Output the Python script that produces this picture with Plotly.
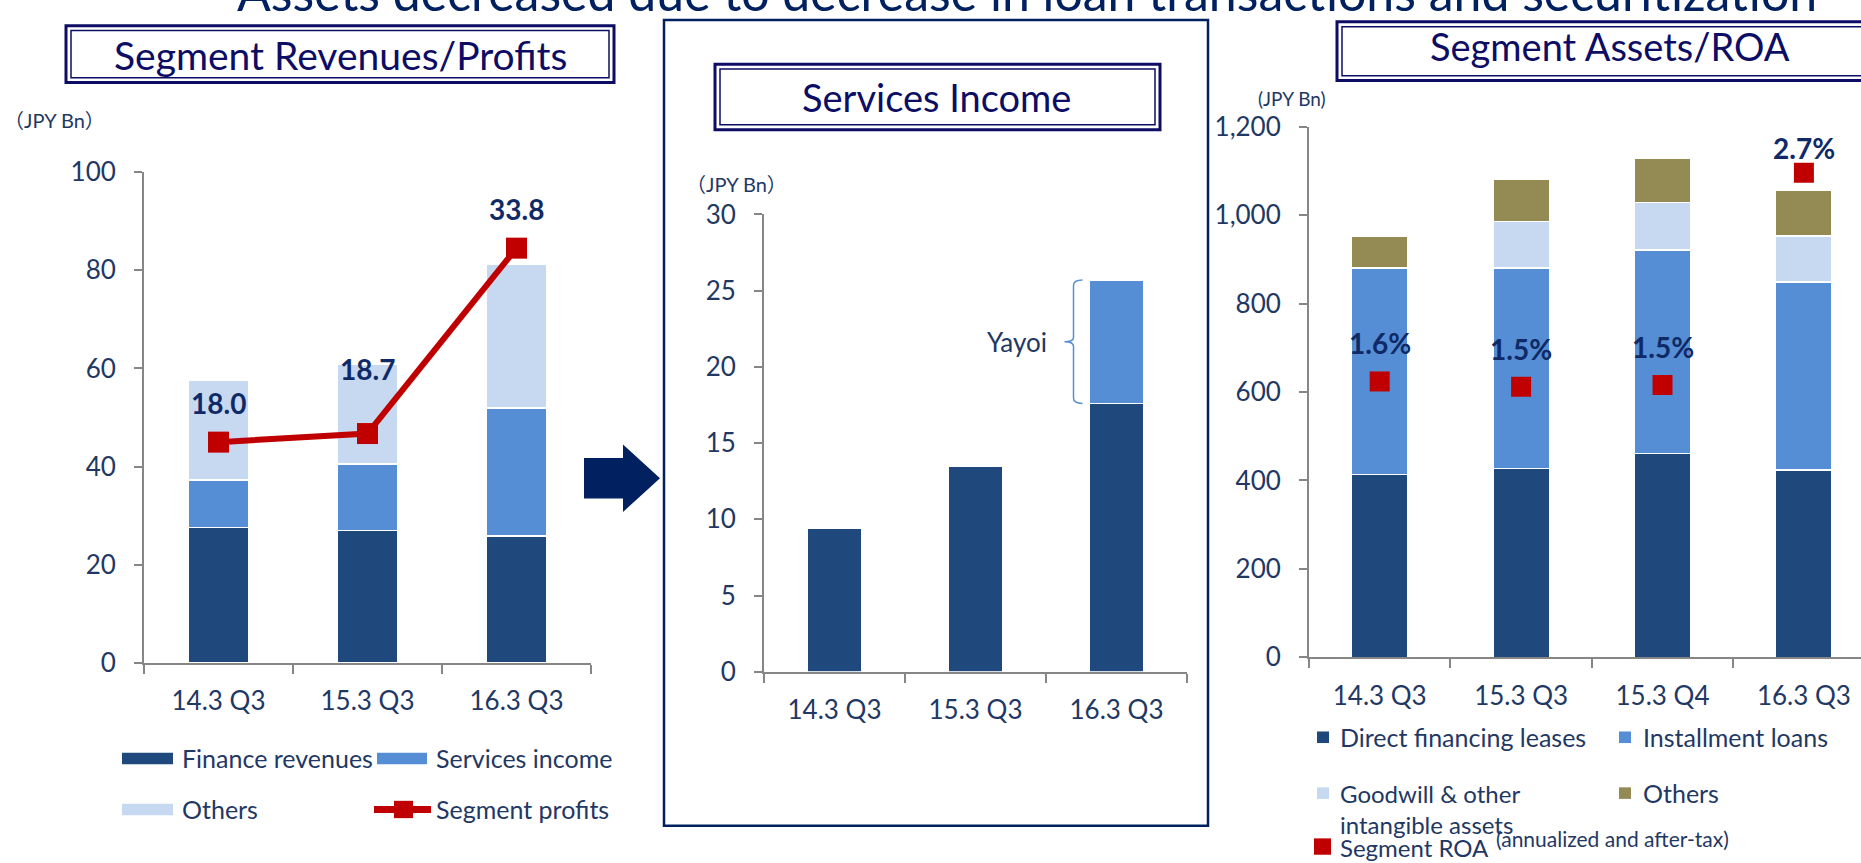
import plotly.graph_objects as go

W, H = 1861, 863

# ---------------- data ----------------
cats_left = ["14.3 Q3", "15.3 Q3", "16.3 Q3"]
finance_rev = [27.6, 27.0, 25.9]
services_inc = [9.7, 13.5, 26.0]
others_rev = [20.3, 20.4, 29.4]
segment_profits = [18.0, 18.7, 33.8]

cats_mid = ["14.3 Q3", "15.3 Q3", "16.3 Q3"]
services_base = [9.4, 13.5, 17.6]
services_yayoi = [0, 0, 8.1]

cats_right = ["14.3 Q3", "15.3 Q3", "15.3 Q4", "16.3 Q3"]
dfl = [413, 427, 461, 424]
inst_loans = [468, 454, 460, 425]
goodwill = [0, 105, 108, 104]
others_assets = [71, 95, 99, 103]
roa = [1.56, 1.53, 1.54, 2.74]

left_ticks = [0, 20, 40, 60, 80, 100]
mid_ticks = [0, 5, 10, 15, 20, 25, 30]
right_ticks = [0, 200, 400, 600, 800, 1000, 1200]
right_ticktext = ["0", "200", "400", "600", "800", "1,000", "1,200"]

# ---------------- styles ----------------
FONT = "Lato"
C_DARK = "#1F497D"
C_MID = "#558ED5"
C_LIGHT = "#C6D9F1"
C_OLIVE = "#948A54"
C_RED = "#C00000"
C_TXT = "#1F3864"
C_BOLD = "#0F2A66"
C_TITLE = "#0D0D65"
C_AX = "#868686"
C_BOX = "#002060"


def px(x):
    return x / W


def py(y):
    return 1 - y / H


fig = go.Figure()

bar_line = dict(color="white", width=1.5)

# Left chart
for name, vals, col in [("Finance revenues", finance_rev, C_DARK),
                        ("Services income", services_inc, C_MID),
                        ("Others", others_rev, C_LIGHT)]:
    fig.add_trace(go.Bar(x=cats_left, y=vals, name=name, marker=dict(color=col, line=bar_line),
                         width=0.4, xaxis="x", yaxis="y", showlegend=False, hoverinfo="skip"))
fig.add_trace(go.Scatter(x=cats_left, y=segment_profits, name="Segment profits", mode="lines+markers",
                         line=dict(color=C_RED, width=6),
                         marker=dict(symbol="square", size=21, color=C_RED),
                         xaxis="x", yaxis="y2", showlegend=False, hoverinfo="skip"))

# Middle chart
fig.add_trace(go.Bar(x=cats_mid, y=services_base, marker=dict(color=C_DARK, line=bar_line),
                     width=0.38, xaxis="x2", yaxis="y3", showlegend=False, hoverinfo="skip"))
fig.add_trace(go.Bar(x=cats_mid, y=services_yayoi, marker=dict(color=C_MID, line=bar_line),
                     width=0.38, xaxis="x2", yaxis="y3", showlegend=False, hoverinfo="skip"))

# Right chart
for name, vals, col in [("Direct financing leases", dfl, C_DARK),
                        ("Installment loans", inst_loans, C_MID),
                        ("Goodwill & other intangible assets", goodwill, C_LIGHT),
                        ("Others", others_assets, C_OLIVE)]:
    fig.add_trace(go.Bar(x=cats_right, y=vals, name=name, marker=dict(color=col, line=bar_line),
                         width=0.4, xaxis="x3", yaxis="y4", showlegend=False, hoverinfo="skip"))
fig.add_trace(go.Scatter(x=cats_right, y=roa, mode="markers",
                         marker=dict(symbol="square", size=20, color=C_RED),
                         xaxis="x3", yaxis="y5", showlegend=False, hoverinfo="skip"))

tickfont = dict(family=FONT, size=26, color=C_TXT)


def xax(domain, anchor, rng):
    return dict(domain=domain, anchor=anchor, type="category", range=rng,
                showline=True, linecolor=C_AX, linewidth=2, ticks="outside",
                tickson="boundaries", ticklen=9, tickwidth=2, tickcolor=C_AX,
                showgrid=False, zeroline=False, tickfont=tickfont,
                ticklabelstandoff=14, fixedrange=True)


def yax(domain, anchor, rng, tickvals, ticktext=None):
    d = dict(domain=domain, anchor=anchor, range=rng, tickvals=tickvals,
             showline=True, linecolor=C_AX, linewidth=2, ticks="outside",
             ticklen=8, tickwidth=2, tickcolor=C_AX, showgrid=False,
             zeroline=False, tickfont=tickfont, ticklabelstandoff=13,
             fixedrange=True)
    if ticktext:
        d["ticktext"] = ticktext
    return d


right_cat = 141.4
right_x0 = 1309
right_end = (W - right_x0) / right_cat - 0.5

fig.update_layout(
    width=W, height=H,
    margin=dict(l=0, r=0, t=0, b=0),
    paper_bgcolor="white", plot_bgcolor="rgba(0,0,0,0)",
    barmode="stack",
    showlegend=False,
    xaxis=xax([px(144), px(591)], "y", [-0.5, 2.5]),
    yaxis=yax([py(671), py(161)], "x", [0, 100], left_ticks),
    yaxis2=dict(overlaying="y", anchor="x", range=[0, 40], visible=False, fixedrange=True),
    xaxis2=xax([px(764), px(1187)], "y3", [-0.5, 2.5]),
    yaxis3=yax([py(680), py(205)], "x2", [0, 30], mid_ticks),
    xaxis3=xax([px(right_x0), 1.0], "y4", [-0.5, right_end]),
    yaxis4=yax([py(665), py(114)], "x3", [0, 1200], right_ticks, right_ticktext),
    yaxis5=dict(overlaying="y4", anchor="x3", range=[0, 3], visible=False, fixedrange=True),
)

ann = []
shapes = []


def text(x, y, s, size=25, color=C_TXT, xanchor="left", yanchor="middle", bold=False, family=FONT):
    ann.append(dict(x=px(x), y=py(y), xref="paper", yref="paper", text=("<b>%s</b>" % s) if bold else s,
                    showarrow=False, xanchor=xanchor, yanchor=yanchor, align="left",
                    font=dict(family=family, size=size, color=color)))


def rect(x0, y0, x1, y1, fill=None, line=None, lw=0):
    shapes.append(dict(type="rect", xref="paper", yref="paper", x0=px(x0), x1=px(x1), y0=py(y1), y1=py(y0),
                       fillcolor=fill if fill else "rgba(0,0,0,0)",
                       line=dict(color=line if line else "rgba(0,0,0,0)", width=lw), layer="above"))


def double_box(x0, y0, x1, y1):
    rect(x0, y0, x1, y1, line=C_TITLE, lw=3)
    rect(x0 + 5, y0 + 5, x1 - 5, y1 - 5, line=C_TITLE, lw=1.5)


# Top banner (cut off at top of the page)
text(1027, -26, "Assets decreased due to decrease in loan transactions and securitization",
     size=50, color=C_BOX, xanchor="center")

# Middle frame
rect(664, 3, 1208, 840, line=C_BOX, lw=2.5)

# Title boxes
double_box(66, 9, 614, 68)
text(340, 39, "Segment Revenues/Profits", size=39, color=C_TITLE, xanchor="center")
double_box(715, 49, 1160, 117)
text(937, 83, "Services Income", size=38, color=C_TITLE, xanchor="center")
double_box(1337, 5, 1885, 66)
text(1610, 30, "Segment Assets/ROA", size=38, color=C_TITLE, xanchor="center")

# Unit labels
text(2, 107, "（JPY Bn）", size=20, family="Lato, Noto Sans CJK JP")
text(684, 173, "（JPY Bn）", size=20, family="Lato, Noto Sans CJK JP")
text(1256, 85, "(JPY Bn)", size=19)

# Arrow
pts = [(584, 458), (623, 458), (623, 444), (660, 479), (623, 514), (623, 500), (584, 500)]
path = "M " + " L ".join("%f,%f" % (px(a), py(b)) for a, b in pts) + " Z"
shapes.append(dict(type="path", xref="paper", yref="paper", path=path, fillcolor=C_BOX,
                   line=dict(width=0)))

# Data labels
for i, v in enumerate(segment_profits):
    ann.append(dict(x=cats_left[i], y=v, xref="x", yref="y2", text="<b>%.1f</b>" % v,
                    showarrow=False, yshift=[39, 65, 39][i],
                    font=dict(family=FONT, size=28, color=C_BOLD)))
for i, v in enumerate(roa):
    ann.append(dict(x=cats_right[i], y=v, xref="x3", yref="y5", text="<b>%.1f%%</b>" % v,
                    showarrow=False, yshift=[38, 38, 38, 25][i],
                    font=dict(family=FONT, size=28, color=C_BOLD)))

# Yayoi bracket
bot = services_base[2]
top = services_base[2] + services_yayoi[2]
mid = (bot + top) / 2
bp = ("M -34,{t} Q -43,{t} -43,{t1} L -43,{m1} Q -43,{m} -52,{m} Q -43,{m} -43,{m2} "
      "L -43,{b1} Q -43,{b} -34,{b}").format(t=top, t1=top - 0.35, m1=mid + 0.3, m=mid,
                                              m2=mid - 0.3, b1=bot + 0.35, b=bot)
shapes.append(dict(type="path", xref="x2", yref="y3", xsizemode="pixel", xanchor=cats_mid[2],
                   path=bp, line=dict(color=C_MID, width=1.5)))
ann.append(dict(x=cats_mid[2], y=mid, xref="x2", yref="y3", text="Yayoi", showarrow=False,
                xanchor="right", xshift=-68, font=dict(family=FONT, size=26, color=C_TXT)))

# Left legend
r1, r2 = 770, 823
rect(122, r1 - 6, 173, r1 + 6, fill=C_DARK)
text(180, r1, "Finance revenues")
rect(377, r1 - 6, 427, r1 + 6, fill=C_MID)
text(434, r1, "Services income")
rect(122, r2 - 6, 173, r2 + 6, fill=C_LIGHT)
text(180, r2, "Others")
shapes.append(dict(type="line", xref="paper", yref="paper", x0=px(374), x1=px(431), y0=py(r2), y1=py(r2),
                   line=dict(color=C_RED, width=7)))
rect(394, r2 - 9, 413, r2 + 9, fill=C_RED)
text(434, r2, "Segment profits")

# Right legend
q1, q2 = 748, 806
rect(1317, q1 - 6, 1329, q1 + 6, fill=C_DARK)
text(1338, q1, "Direct financing leases")
rect(1619, q1 - 6, 1631, q1 + 6, fill=C_MID)
text(1641, q1, "Installment loans")
rect(1317, q2 - 6, 1329, q2 + 6, fill=C_LIGHT)
text(1338, q2 - 17, "Goodwill &amp; other<br>intangible assets", size=24, yanchor="top")
rect(1619, q2 - 6, 1631, q2 + 6, fill=C_OLIVE)
text(1641, q2, "Others")
rect(1314, 853, 1331, 870, fill=C_RED)
text(1338, 862, "Segment ROA", size=24)
text(1494, 853, "(annualized and after-tax)", size=21)

fig.update_layout(annotations=ann, shapes=shapes)

fig.write_html("out.html", config={"displayModeBar": False},
               post_script="document.body.style.margin='0';document.body.style.overflow='hidden';")
